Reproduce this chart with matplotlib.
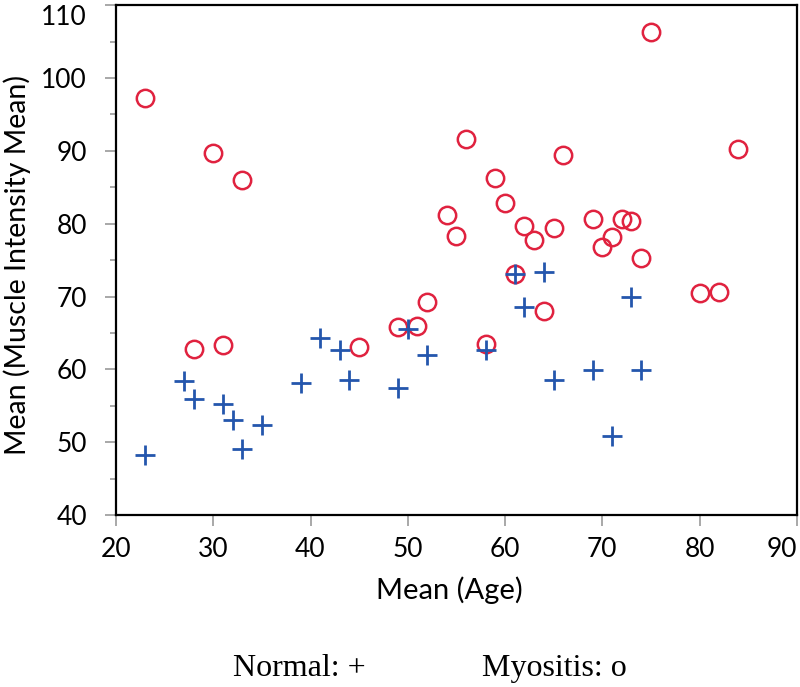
import matplotlib.pyplot as plt
from matplotlib.ticker import MultipleLocator

# Normal subjects (+)
normal_age = [23, 27, 28, 31, 32, 33, 35, 39, 41, 43, 44, 49, 50, 52,
              58, 61, 62, 64, 65, 69, 71, 73, 74]
normal_int = [48.3, 58.4, 55.9, 55.2, 53.1, 49.1, 52.3, 58.1, 64.3, 62.7, 58.5, 57.4, 65.5, 61.9,
              62.7, 73.1, 68.6, 73.3, 58.5, 59.9, 50.9, 70.0, 59.9]

# Myositis patients (o)
myo_age = [23, 28, 30, 31, 33, 45, 49, 51, 52, 54, 55, 56, 58, 59, 60, 61,
           62, 63, 64, 65, 66, 69, 70, 71, 72, 73, 74, 75, 80, 82, 84]
myo_int = [97.2, 62.8, 89.7, 63.4, 86.0, 63.0, 65.8, 66.0, 69.2, 81.2, 78.3, 91.6, 63.5, 86.3, 82.9, 73.1,
           79.7, 77.7, 68.0, 79.4, 89.5, 80.6, 76.8, 78.2, 80.6, 80.4, 75.3, 106.3, 70.5, 70.6, 90.3]

x_ticks = [20, 30, 40, 50, 60, 70, 80, 90]
y_ticks = [40, 50, 60, 70, 80, 90, 100, 110]

plt.rcParams['font.family'] = ['Lato', 'DejaVu Sans']

fig = plt.figure(figsize=(8, 6.87), dpi=100)
ax = fig.add_axes([0.145, 0.2504, 0.851, 0.742])

ax.plot(myo_age, myo_int, 'o', ms=12.5, mfc='none', mec='#e0223f', mew=1.8)
ax.plot(normal_age, normal_int, '+', ms=15, mec='#2456ad', mew=2)

ax.set_xlim(20, 90)
ax.set_ylim(40, 110)
ax.set_xticks(x_ticks)
ax.set_yticks(y_ticks)
ax.yaxis.set_minor_locator(MultipleLocator(5))
ax.tick_params(which='major', direction='out', length=8, width=1.2, color='#9a9a9a',
               labelsize=19, labelcolor='black')
ax.tick_params(axis='y', which='major', pad=13)
ax.tick_params(axis='x', which='major', pad=8)
ax.tick_params(which='minor', direction='out', length=4, width=1.2, color='#9a9a9a')
for s in ax.spines.values():
    s.set_linewidth(1.6)
    s.set_color('black')

# keep the end labels inside the picture, as in the original
ax.get_yticklabels()[-1].set_va('top')
ax.get_xticklabels()[-1].set_ha('right')

ax.set_xlabel('Mean (Age)', fontsize=21)
ax.xaxis.set_label_coords(0.49, -0.12)
ax.set_ylabel('Mean (Muscle Intensity Mean)', fontsize=20.5)
ax.yaxis.set_label_coords(-0.125, 0.49)

fig.text(0.291, 0.016, 'Normal: +', family='Liberation Serif', fontsize=23, ha='left')
fig.text(0.603, 0.016, 'Myositis: o', family='Liberation Serif', fontsize=23, ha='left')

fig.savefig('out.png', dpi=100)
